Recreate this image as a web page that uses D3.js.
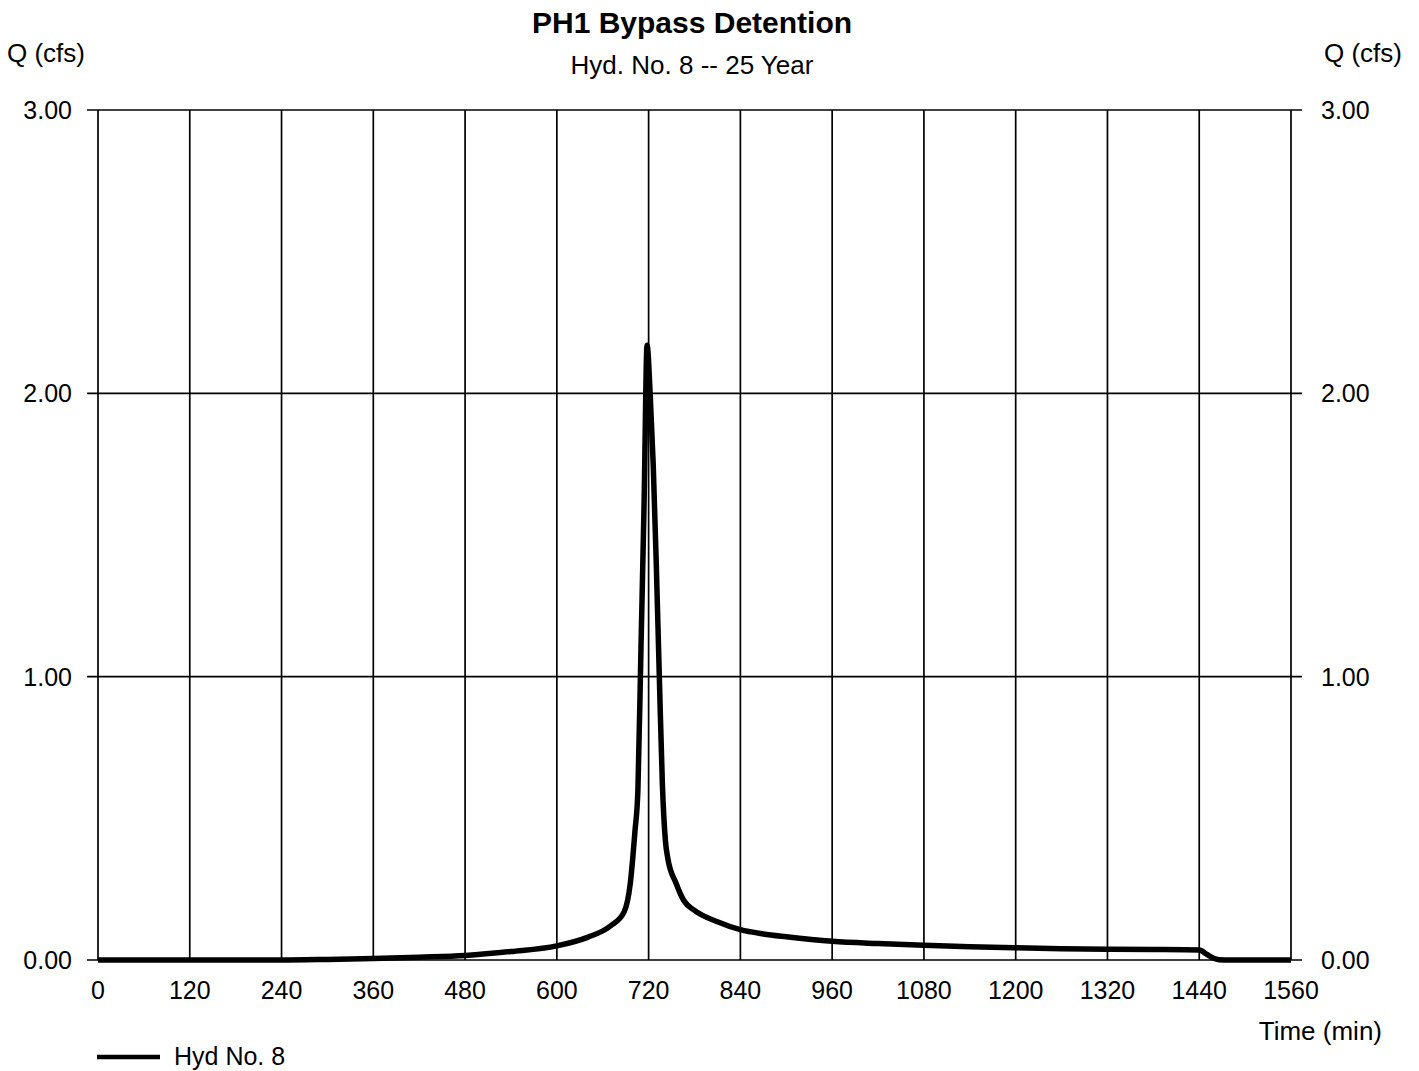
<!DOCTYPE html>
<html>
<head>
<meta charset="utf-8">
<script src="https://cdn.jsdelivr.net/npm/d3@7"></script>
<style>
  body { margin: 0; background: #fff; }
  text { font-family: "Liberation Sans", Arial, sans-serif; fill: #000; }
</style>
</head>
<body>
<script>
// hydrograph values (time in min, Q in cfs)
var times = [0, 120, 240, 300, 360, 420, 480, 540, 600, 640, 670, 688, 696, 702, 706, 710, 714, 718,
             722, 726, 730, 734, 738, 742, 745, 756, 766, 780, 810, 840, 870, 900, 960, 1020, 1080,
             1140, 1200, 1260, 1320, 1380, 1440, 1450, 1458, 1466, 1480, 1560];
var flows = [0, 0, 0, 0.002, 0.005, 0.01, 0.016, 0.03, 0.05, 0.08, 0.12, 0.17, 0.27, 0.45, 0.6, 1.1, 1.6, 2.17,
             2.0, 1.75, 1.4, 1.0, 0.62, 0.42, 0.36, 0.27, 0.21, 0.175, 0.135, 0.107, 0.092, 0.082, 0.066, 0.058, 0.052,
             0.047, 0.043, 0.04, 0.038, 0.037, 0.035, 0.02, 0.007, 0.001, 0, 0];
var xTicks = [0, 120, 240, 360, 480, 600, 720, 840, 960, 1080, 1200, 1320, 1440, 1560];
var yTicks = [0, 1, 2, 3];

var title = "PH1 Bypass Detention";
var subtitle = "Hyd. No. 8 -- 25 Year";
var seriesName = "Hyd No. 8";

var width = 1419, height = 1071;
var plotLeft = 98, plotRight = 1291, plotTop = 110, plotBottom = 960;

var svg = d3.select("body")
  .append("svg")
  .attr("width", width)
  .attr("height", height);

var x = d3.scaleLinear().domain([0, 1560]).range([plotLeft, plotRight]);
var y = d3.scaleLinear().domain([0, 3]).range([plotBottom, plotTop]);

// vertical grid lines
svg.append("g").selectAll("line")
  .data(xTicks)
  .enter().append("line")
  .attr("x1", d => x(d)).attr("x2", d => x(d))
  .attr("y1", plotTop).attr("y2", plotBottom)
  .attr("stroke", "#000").attr("stroke-width", 1.7);

// horizontal grid lines (stick out a bit as ticks)
svg.append("g").selectAll("line")
  .data(yTicks)
  .enter().append("line")
  .attr("x1", plotLeft - 11).attr("x2", plotRight + 11)
  .attr("y1", d => y(d)).attr("y2", d => y(d))
  .attr("stroke", "#000").attr("stroke-width", 1.7);

// y labels both sides
svg.append("g").selectAll("text")
  .data(yTicks)
  .enter().append("text")
  .attr("x", 72).attr("y", d => y(d) + 9)
  .attr("text-anchor", "end")
  .style("font-size", "25px")
  .text(d => d3.format(".2f")(d));

svg.append("g").selectAll("text")
  .data(yTicks)
  .enter().append("text")
  .attr("x", 1321).attr("y", d => y(d) + 9)
  .style("font-size", "25px")
  .text(d => d3.format(".2f")(d));

// x labels
svg.append("g").selectAll("text")
  .data(xTicks)
  .enter().append("text")
  .attr("x", d => x(d)).attr("y", 999)
  .attr("text-anchor", "middle")
  .style("font-size", "25px")
  .text(d => d);

// the hydrograph
var pts = times.map((t, i) => [t, flows[i]]);
var line = d3.line()
  .x(d => x(d[0]))
  .y(d => y(d[1]))
  .curve(d3.curveMonotoneX);

svg.append("path")
  .datum(pts)
  .attr("d", line)
  .attr("fill", "none")
  .attr("stroke", "#000")
  .attr("stroke-width", 5.5)
  .attr("stroke-linejoin", "round");

// titles
svg.append("text").attr("x", 692).attr("y", 33)
  .attr("text-anchor", "middle")
  .style("font-size", "30px").style("font-weight", "bold")
  .text(title);
svg.append("text").attr("x", 692).attr("y", 74)
  .attr("text-anchor", "middle")
  .style("font-size", "26px")
  .text(subtitle);

svg.append("text").attr("x", 7).attr("y", 62)
  .style("font-size", "26px").text("Q (cfs)");
svg.append("text").attr("x", 1402).attr("y", 62)
  .attr("text-anchor", "end")
  .style("font-size", "26px").text("Q (cfs)");
svg.append("text").attr("x", 1382).attr("y", 1040)
  .attr("text-anchor", "end")
  .style("font-size", "26px").text("Time (min)");

// legend
svg.append("line")
  .attr("x1", 97).attr("x2", 160)
  .attr("y1", 1057).attr("y2", 1057)
  .attr("stroke", "#000").attr("stroke-width", 4.5);
svg.append("text").attr("x", 174).attr("y", 1065)
  .style("font-size", "25px").text(seriesName);
</script>
</body>
</html>
